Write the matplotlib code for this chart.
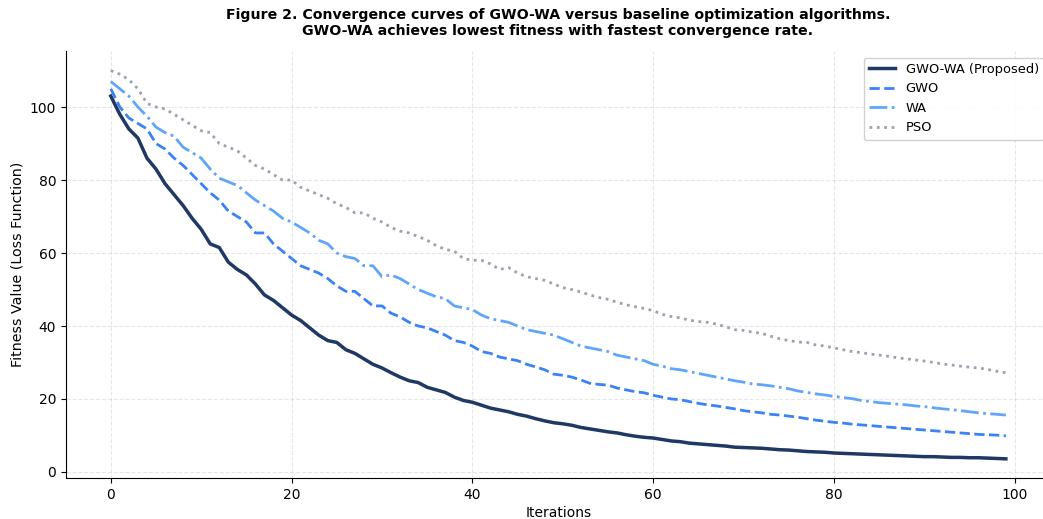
import matplotlib
matplotlib.use("Agg")
import matplotlib.pyplot as plt
import numpy as np

# Convergence curves (100 iterations)
iterations = np.arange(100)

gwo_wa = [
    103, 98, 94, 91.5, 86, 83, 79, 76, 73, 69.5,
    66.5, 62.5, 61.5, 57.5, 55.5, 54, 51.5, 48.5, 47, 45,
    43, 41.5, 39.5, 37.5, 36, 35.5, 33.5, 32.5, 31, 29.5,
    28.5, 27.2, 26, 25, 24.5, 23.2, 22.5, 21.8, 20.5, 19.6,
    19.1, 18.3, 17.5, 17, 16.5, 15.8, 15.3, 14.6, 14, 13.5,
    13.2, 12.8, 12.2, 11.8, 11.4, 11, 10.7, 10.2, 9.8, 9.5,
    9.3, 8.9, 8.5, 8.3, 7.9, 7.7, 7.5, 7.3, 7.1, 6.8,
    6.7, 6.6, 6.5, 6.3, 6.1, 6.0, 5.8, 5.6, 5.5, 5.4,
    5.2, 5.1, 5.0, 4.9, 4.8, 4.7, 4.6, 4.5, 4.4, 4.3,
    4.2, 4.2, 4.1, 4.0, 4.0, 3.9, 3.9, 3.8, 3.7, 3.6,
]
gwo = [
    105, 100, 97, 95.5, 94, 90, 88.5, 86, 84, 81.5,
    79, 76.5, 74.5, 71.5, 70, 68.5, 65.5, 65.5, 62.5, 60.5,
    58.5, 56.5, 55.5, 54.5, 53, 51, 49.5, 49.5, 47.5, 45.5,
    45.5, 43.5, 42.5, 41, 40, 39.5, 38.5, 37.5, 36, 35.5,
    34.5, 33, 32.5, 31.5, 31, 30.5, 29.5, 28.8, 28, 26.8,
    26.5, 26, 25.2, 24.3, 24, 23.8, 23, 22.5, 22, 21.7,
    21, 20.5, 20, 19.8, 19.3, 18.8, 18.4, 18.1, 17.7, 17.3,
    16.8, 16.5, 16.2, 15.8, 15.6, 15.3, 15, 14.6, 14.2, 13.9,
    13.6, 13.4, 13.1, 12.9, 12.7, 12.5, 12.3, 12.1, 11.9, 11.7,
    11.5, 11.3, 11.1, 10.9, 10.7, 10.5, 10.3, 10.2, 10.1, 9.9,
]
wa = [
    107, 105, 103, 100, 97.5, 94.5, 93, 92, 89, 87.5,
    86, 83, 80.5, 79.5, 78.5, 76.5, 74.5, 73, 71.5, 69.5,
    68.5, 67, 65.5, 63.5, 62.5, 60, 59, 58.5, 56.5, 56.5,
    53.5, 54, 53, 51.5, 50, 49, 48, 47.5, 45.5, 45,
    44.5, 43, 42, 41.5, 41, 40, 39, 38.5, 38, 37.5,
    36.5, 35.5, 34.5, 34, 33.5, 33, 32, 31.5, 31, 30.5,
    29.5, 29, 28.3, 28, 27.5, 27, 26.5, 26, 25.5, 25,
    24.6, 24.1, 23.9, 23.6, 23.2, 22.8, 22.2, 21.8, 21.4, 21.1,
    20.7, 20.4, 20.1, 19.6, 19.3, 19, 18.8, 18.6, 18.4, 18.1,
    17.9, 17.6, 17.3, 17.1, 16.8, 16.5, 16.2, 16, 15.8, 15.6,
]
pso = [
    110, 109, 107.5, 105, 101, 100, 99.5, 98, 96.5, 95,
    93.5, 93, 90, 89, 88, 86, 84, 83, 81.5, 80,
    80, 78, 77, 76, 75, 73.5, 72.5, 71, 71, 69.5,
    68.5, 67, 66, 65.5, 64.5, 63.5, 62, 61, 60.5, 58.5,
    58, 58, 57, 55.5, 56, 54.5, 53.5, 53, 52.5, 51.5,
    50.5, 50, 49.3, 48.5, 47.8, 47.3, 46.5, 45.8, 45.3, 44.8,
    44.2, 43.2, 42.6, 42.2, 41.6, 41.2, 41, 40.5, 39.8, 39,
    38.8, 38.3, 38, 37.2, 36.5, 36, 35.6, 35.5, 34.8, 34.5,
    34, 33.5, 33, 32.7, 32.3, 32, 31.7, 31.3, 31, 30.7,
    30.4, 30, 29.6, 29.3, 29, 28.7, 28.5, 28.1, 27.6, 27.2,
]

fig = plt.figure(figsize=(10.43, 5.19), dpi=100)
# axes intentionally runs slightly past the right edge, as in the reference crop
ax = fig.add_axes([0.0633, 0.0785, 0.944, 0.823])

ax.plot(iterations, gwo_wa, color="#1f3864", linestyle="-", linewidth=2.5,
        label="GWO-WA (Proposed)")
ax.plot(iterations, gwo, color="#3b82f6", linestyle="--", linewidth=2,
        label="GWO")
ax.plot(iterations, wa, color="#60a5fa", linestyle="-.", linewidth=2,
        label="WA")
ax.plot(iterations, pso, color="#9ca3af", linestyle=":", linewidth=2,
        label="PSO")

ax.set_xlabel("Iterations", fontsize=10, labelpad=3)
ax.set_ylabel("Fitness Value (Loss Function)", fontsize=10.3)
ax.set_yticks([0, 20, 40, 60, 80, 100])
ax.set_xticks([0, 20, 40, 60, 80, 100])
ax.tick_params(labelsize=10)
ax.grid(True, linestyle="--", alpha=0.3)
ax.spines["top"].set_visible(False)
ax.spines["right"].set_visible(False)
ax.legend(loc="upper right", fontsize=9.4, framealpha=0.9,
          bbox_to_anchor=(1.0, 1.0))

fig.text(0.535, 0.985,
         "Figure 2. Convergence curves of GWO-WA versus baseline optimization algorithms.\n"
         "GWO-WA achieves lowest fitness with fastest convergence rate.",
         ha="center", va="top", fontsize=10.2, fontweight="bold")

fig.savefig("out.png", dpi=100)
